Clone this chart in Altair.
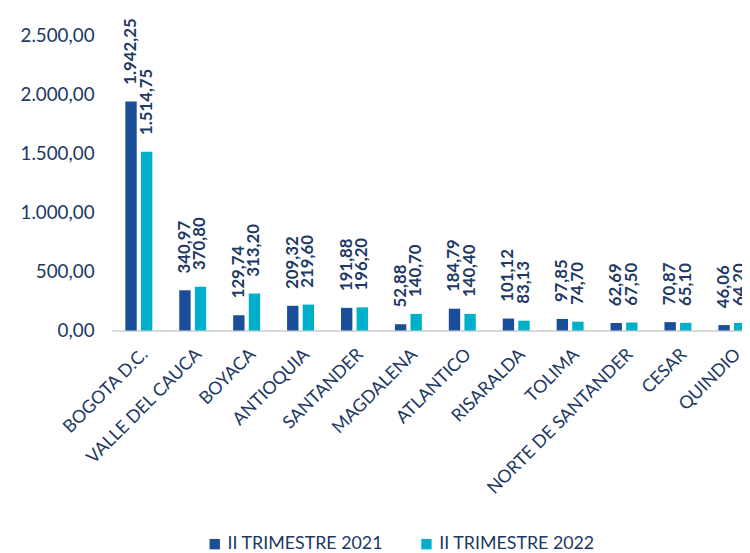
import altair as alt
import pandas as pd

departamentos = ["BOGOTA D.C.", "VALLE DEL CAUCA", "BOYACA", "ANTIOQUIA", "SANTANDER",
                 "MAGDALENA", "ATLANTICO", "RISARALDA", "TOLIMA", "NORTE DE SANTANDER",
                 "CESAR", "QUINDIO"]
serie_2021 = [1942.25, 340.97, 129.74, 209.32, 191.88, 52.88, 184.79, 101.12, 97.85, 62.69, 70.87, 46.06]
serie_2022 = [1514.75, 370.80, 313.20, 219.60, 196.20, 140.70, 140.40, 83.13, 74.70, 67.50, 65.10, 64.20]
series = ["II TRIMESTRE 2021", "II TRIMESTRE 2022"]
colores = ["#1A4E98", "#00AFCA"]
texto = "#203864"


def fmt(v):
    s = f"{v:,.2f}"
    return s.replace(",", "_").replace(".", ",").replace("_", ".")


rows = []
for d, a, b in zip(departamentos, serie_2021, serie_2022):
    rows.append({"dep": d, "serie": series[0], "valor": a, "lab": fmt(a)})
    rows.append({"dep": d, "serie": series[1], "valor": b, "lab": fmt(b)})
df = pd.DataFrame(rows)

FONT = "Lato"

x = alt.X("dep:N", sort=departamentos, title=None,
          scale=alt.Scale(range=[0, 654], paddingInner=0.5, paddingOuter=0.25),
          axis=alt.Axis(labelAngle=-45, labelFontSize=18, labelColor=texto, labelFont=FONT,
                        ticks=False, domainColor="#D9D9D9", domainWidth=2, labelPadding=15,
                        labelLimit=300))
xo = alt.XOffset("serie:N", sort=series,
                 scale=alt.Scale(paddingInner=0.27, paddingOuter=0))

base = alt.Chart(df)

bars = base.mark_bar().encode(
    x=x,
    xOffset=xo,
    y=alt.Y("valor:Q", title=None,
            scale=alt.Scale(domain=[0, 2500], nice=False),
            axis=alt.Axis(values=[0, 500, 1000, 1500, 2000, 2500], grid=False, domain=False,
                          ticks=False, labelFontSize=19, labelColor=texto, labelFont=FONT,
                          labelPadding=18,
                          labelExpr="replace(replace(replace(format(datum.value, ',.2f'), ',', '_'), '.', ','), '_', '.')")),
    color=alt.Color("serie:N", sort=series, scale=alt.Scale(domain=series, range=colores),
                    legend=alt.Legend(title=None, orient="none", direction="horizontal",
                                      legendX=95, legendY=505, symbolType="square",
                                      symbolSize=110, symbolStrokeWidth=0, symbolOpacity=1,
                                      labelFontSize=18, labelColor=texto, labelFont=FONT,
                                      columnPadding=34, labelOffset=4)),
)

labels = base.mark_text(angle=270, align="left", baseline="middle", dx=17,
                        fontSize=17, fontWeight="bold", color=texto, font=FONT).encode(
    x=x,
    xOffset=xo,
    y=alt.Y("valor:Q"),
    text="lab:N",
)

chart = (bars + labels).properties(
    width=637, height=298,
    autosize=alt.AutoSizeParams(type="none"),
    padding={"left": 105, "top": 25, "right": 0, "bottom": 226},
).configure_view(stroke=None)

chart.save("out.html", embed_options={"renderer": "svg", "actions": False})
